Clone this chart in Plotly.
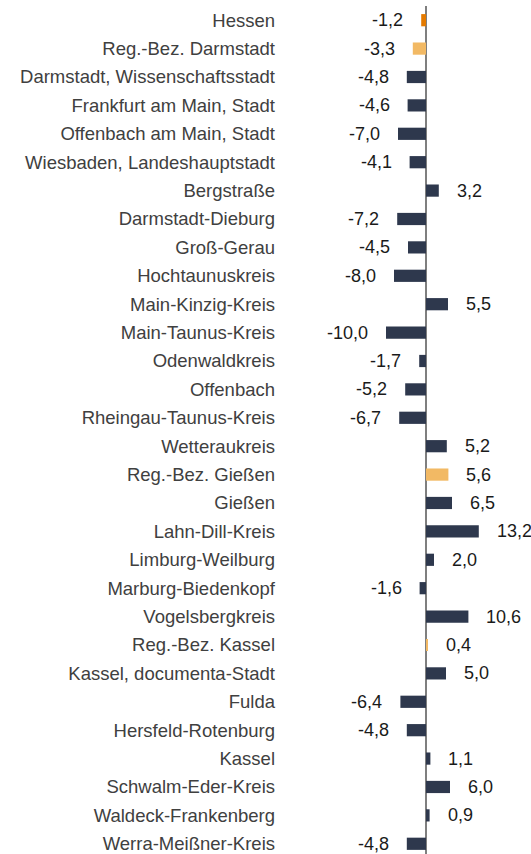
import plotly.graph_objects as go

regions = [
    "Hessen", "Reg.-Bez. Darmstadt", "Darmstadt, Wissenschaftsstadt",
    "Frankfurt am Main, Stadt", "Offenbach am Main, Stadt",
    "Wiesbaden, Landeshauptstadt", "Bergstraße", "Darmstadt-Dieburg",
    "Groß-Gerau", "Hochtaunuskreis", "Main-Kinzig-Kreis", "Main-Taunus-Kreis",
    "Odenwaldkreis", "Offenbach", "Rheingau-Taunus-Kreis", "Wetteraukreis",
    "Reg.-Bez. Gießen", "Gießen", "Lahn-Dill-Kreis", "Limburg-Weilburg",
    "Marburg-Biedenkopf", "Vogelsbergkreis", "Reg.-Bez. Kassel",
    "Kassel, documenta-Stadt", "Fulda", "Hersfeld-Rotenburg", "Kassel",
    "Schwalm-Eder-Kreis", "Waldeck-Frankenberg", "Werra-Meißner-Kreis",
]
change = [
    -1.2, -3.3, -4.8, -4.6, -7.0, -4.1, 3.2, -7.2, -4.5, -8.0, 5.5, -10.0,
    -1.7, -5.2, -6.7, 5.2, 5.6, 6.5, 13.2, 2.0, -1.6, 10.6, 0.4, 5.0, -6.4,
    -4.8, 1.1, 6.0, 0.9, -4.8,
]

NAVY = "#2e384d"
ORANGE = "#e47a00"
LIGHT_ORANGE = "#f2b964"

colors = []
for name in regions:
    if name == "Hessen":
        colors.append(ORANGE)
    elif name.startswith("Reg.-Bez."):
        colors.append(LIGHT_ORANGE)
    else:
        colors.append(NAVY)

pos = list(range(len(regions)))

fig = go.Figure(
    go.Bar(
        x=change,
        y=pos,
        orientation="h",
        marker=dict(color=colors, line=dict(width=0)),
        width=0.43,
        hoverinfo="skip",
    )
)

for i, v in enumerate(change):
    fig.add_annotation(
        x=v, y=i, xref="x", yref="y",
        text=f"{v:.1f}".replace(".", ","),
        showarrow=False,
        xanchor="right" if v < 0 else "left",
        xshift=-16 if v < 0 else 16,
        font=dict(family="Liberation Sans, Arial, sans-serif", size=18, color="#1a1a1a"),
    )

fig.update_layout(
    width=531, height=854,
    margin=dict(l=278, r=0, t=6, b=0),
    plot_bgcolor="white", paper_bgcolor="white",
    showlegend=False,
    xaxis=dict(
        range=[-37, 26.25], showgrid=False, showticklabels=False, ticks="",
        zeroline=True, zerolinecolor="#7f7f7f", zerolinewidth=1.5,
        fixedrange=True,
    ),
    yaxis=dict(
        range=[29.36, -0.5], tickmode="array", tickvals=pos, ticktext=regions,
        showgrid=False, zeroline=False, ticks="", ticklabelstandoff=2,
        ticklabeloverflow="allow",
        tickfont=dict(family="Liberation Sans, Arial, sans-serif", size=18.5, color="#404040"),
    ),
)

fig.write_html("out.html")
